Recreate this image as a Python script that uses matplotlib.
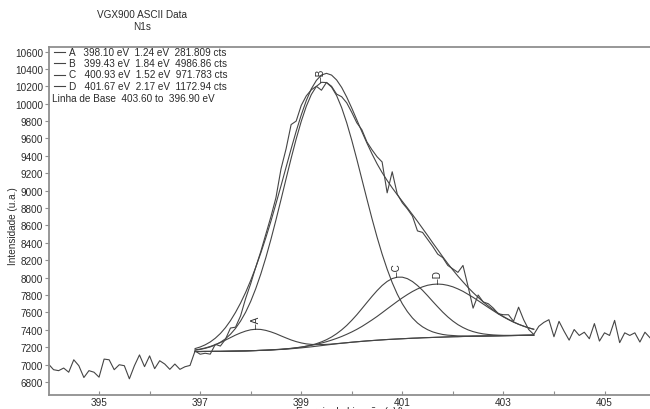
import numpy as np
import matplotlib
matplotlib.use("Agg")
import matplotlib.pyplot as plt
from matplotlib.lines import Line2D

plt.rcParams['font.family'] = ['Liberation Sans', 'DejaVu Sans']

# --- spectrum (N1s), 0.1 eV steps from 394.0 to 405.9 eV
energy = np.round(np.arange(394.0, 405.95, 0.1), 1)
counts = [
    7006, 6941, 6930, 6960, 6912, 7055, 6987, 6851, 6930, 6912,
    6855, 7063, 7055, 6941, 6998, 6987, 6836, 6987, 7111, 6976,
    7100, 6953, 7044, 7006, 6945, 7006, 6945, 6975, 6990, 7157,
    7119, 7130, 7120, 7233, 7213, 7290, 7420, 7430, 7560, 7760,
    7930, 8120, 8300, 8500, 8700, 8920, 9250, 9480, 9760, 9800,
    9980, 10090, 10160, 10200, 10155, 10245, 10200, 10110, 10080, 10010,
    9900, 9780, 9700, 9560, 9470, 9390, 9330, 8975, 9217, 8960,
    8860, 8790, 8707, 8537, 8520, 8440, 8360, 8270, 8230, 8140,
    8100, 8060, 8140, 7900, 7649, 7800, 7720, 7700, 7649, 7584,
    7573, 7573, 7497, 7660, 7516, 7403, 7346, 7440, 7485, 7516,
    7320, 7497, 7384, 7281, 7403, 7335, 7372, 7297, 7471, 7270,
    7365, 7335, 7508, 7252, 7365, 7335, 7365, 7259, 7372, 7308,
]

# --- fit region 396.9 .. 403.6 eV
fit_energy = np.round(np.arange(396.9, 403.65, 0.1), 1)
baseline = [
    7150, 7150, 7151, 7151, 7152, 7152, 7153, 7154, 7155, 7156,
    7157, 7159, 7161, 7163, 7165, 7168, 7171, 7174, 7178, 7182,
    7187, 7192, 7198, 7204, 7211, 7218, 7225, 7232, 7239, 7245,
    7251, 7257, 7262, 7267, 7272, 7276, 7280, 7284, 7288, 7291,
    7294, 7297, 7300, 7303, 7305, 7308, 7310, 7312, 7314, 7316,
    7318, 7320, 7321, 7323, 7324, 7326, 7327, 7328, 7329, 7330,
    7331, 7332, 7333, 7334, 7335, 7336, 7337, 7338,
]
peak_a = [18, 28, 40, 57, 77, 101, 128, 156, 184, 208,
          228, 241, 245, 241, 228, 208, 184, 156, 128, 101,
          77, 57, 40, 28, 18, 12, 7, 4, 2, 1] + [0] * 38
peak_b = [16, 24, 36, 52, 74, 104, 143, 195, 261, 344,
          445, 567, 712, 878, 1065, 1271, 1492, 1723, 1958, 2189,
          2407, 2604, 2772, 2902, 2988, 3028, 3018, 2959, 2854, 2709,
          2529, 2322, 2098, 1864, 1630, 1402, 1186, 987, 809, 651,
          516, 402, 309, 233, 173, 126, 91, 64, 45, 30,
          20, 14, 9, 6, 4, 2, 1] + [0] * 11
peak_c = [0] * 16 + [1, 1, 2, 3, 5, 8, 13, 20, 29, 43,
                     61, 85, 116, 154, 199, 252, 311, 376, 442, 508,
                     570, 625, 668, 698, 711, 708, 688, 652, 604, 546,
                     482, 415, 350, 287, 230, 180, 138, 103, 75, 53,
                     37, 25, 17, 11, 7, 4, 3, 2, 1, 1] + [0, 0]
peak_d = [0] * 13 + [1, 1, 1, 2, 2, 3, 5, 7, 9, 13,
                     17, 22, 29, 38, 49, 62, 78, 97, 118, 143,
                     171, 203, 237, 273, 312, 352, 392, 432, 470, 505,
                     537, 565, 586, 602, 610, 612, 606, 593, 574, 549,
                     519, 484, 447, 408, 368, 328, 289, 251, 216, 184,
                     154, 128, 105, 85, 68]

peak_names = ["A", "B", "C", "D"]
peak_pos = ["398.10", "399.43", "400.93", "401.67"]
peak_fwhm = ["1.24", "1.84", "1.52", "2.17"]
peak_area = ["281.809", "4986.86", "971.783", "1172.94"]

line_col = "#454545"
axis_col = "#8f8f8f"
text_col = "#2b2b2b"
fs = 7.2

W, H = 650, 410
fig = plt.figure(figsize=(W / 100, H / 100), dpi=100)
ax = fig.add_axes([48.5 / W, 14 / H, 1 - 48.5 / W, 348 / H])

base = np.array(baseline)
comps = [np.array(p) for p in (peak_a, peak_b, peak_c, peak_d)]
envelope = base + sum(comps)

ax.plot(energy, counts, color=line_col, lw=0.8)
ax.plot(fit_energy, base, color=line_col, lw=0.8)
for name, comp in zip(peak_names, comps):
    ax.plot(fit_energy, base + comp, color=line_col, lw=0.8)
    i = int(np.argmax(comp))
    ax.text(fit_energy[i], base[i] + comp[i] + 15, "\u2013" + name, rotation=90,
            ha="center", va="bottom", fontsize=fs, color=text_col)
ax.plot(fit_energy, envelope, color=line_col, lw=0.8)

ax.set_xlim(394.0, 405.9)
ax.set_ylim(6650, 10652)
ax.set_xticks(np.arange(395, 406, 2))
ax.set_xticks(np.arange(396, 405, 2), minor=True)
ax.set_yticks(np.arange(6800, 10601, 200))
ax.tick_params(axis="x", which="both", direction="in", length=3.2, width=0.8,
               color=axis_col, labelsize=fs, labelcolor=text_col, pad=1.5)
ax.tick_params(axis="y", direction="out", length=3, width=0.8,
               color=axis_col, labelsize=fs, labelcolor=text_col, pad=1)
for s in ("left", "bottom", "top"):
    ax.spines[s].set_color(axis_col)
    ax.spines[s].set_linewidth(1.3)
ax.spines["right"].set_visible(False)

# titles and axis labels
fig.text(142 / W, 1 - 15 / H, "VGX900 ASCII Data", ha="center", va="center",
         fontsize=fs, color=text_col)
fig.text(142 / W, 1 - 27 / H, "N1s", ha="center", va="center",
         fontsize=fs, color=text_col)
fig.text(13 / W, 1 - 226 / H, "Intensidade (u.a.)", rotation=90, ha="center",
         va="center", fontsize=fs, color=text_col)
# x label sits at the very bottom edge, partly cut off as in the source image
fig.text(350 / W, 1 - 407.5 / H, "Energia de Ligação (eV)", ha="center",
         va="top", fontsize=fs, color=text_col)

# peak table in the top-left corner
rows_y = [52.5, 64, 75.5, 87]
for k, yy in enumerate(rows_y):
    yf = 1 - yy / H
    fig.add_artist(Line2D([54 / W, 65 / W], [yf, yf], color=line_col, lw=0.8))
    row = "%s   %s eV  %s eV  %s cts" % (peak_names[k], peak_pos[k],
                                         peak_fwhm[k], peak_area[k])
    fig.text(69 / W, yf, row, va="center", fontsize=fs, color=text_col)
fig.text(52 / W, 1 - 99 / H, "Linha de Base  403.60 to  396.90 eV", va="center",
         fontsize=fs, color=text_col)

fig.savefig("out.png", dpi=100)
